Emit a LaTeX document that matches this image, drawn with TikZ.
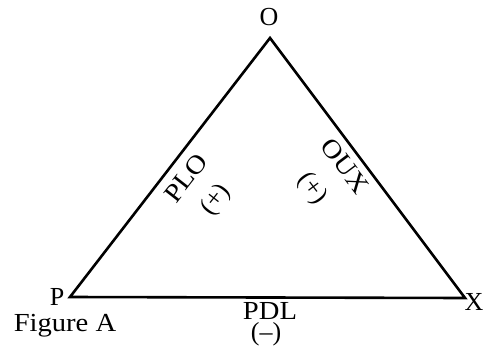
\documentclass[tikz,border=0pt]{standalone}
\usepackage{fontspec}
\setmainfont{Liberation Serif}
\usetikzlibrary{positioning}

\begin{document}
\begin{tikzpicture}[x=1pt,y=-1pt,every node/.style={font=\fontsize{26}{29}\selectfont,inner sep=0pt},side/.style={line width=2.6pt,line join=miter}]
\useasboundingbox (0,0) rectangle (484,348);
\coordinate (o) at (270,38);
\coordinate (p) at (70,297);
\coordinate (x) at (465,298);
\draw[side] (p) -- (o) -- (x) -- cycle;
\node (lo) at (269,17) {O};
\node (lp) at (57,297) {P};
\node (lx) at (474,302) {X};
\node[xscale=1.1] (fig) at (65,326) {Figure A};
\node[xscale=1.1] (pdl) at (270,311) {PDL};
\node (pdlsign) at (266,334) {(--)};
\node[rotate=52,xscale=1.1] (plo) at (186,178) {PLO};
\node[rotate=52] (plosign) at (216,200) {(+)};
\node[rotate=-53,xscale=1.1] (oux) at (345,166) {OUX};
\node[rotate=-53] (ouxsign) at (312,189) {(+)};
\end{tikzpicture}
\end{document}
